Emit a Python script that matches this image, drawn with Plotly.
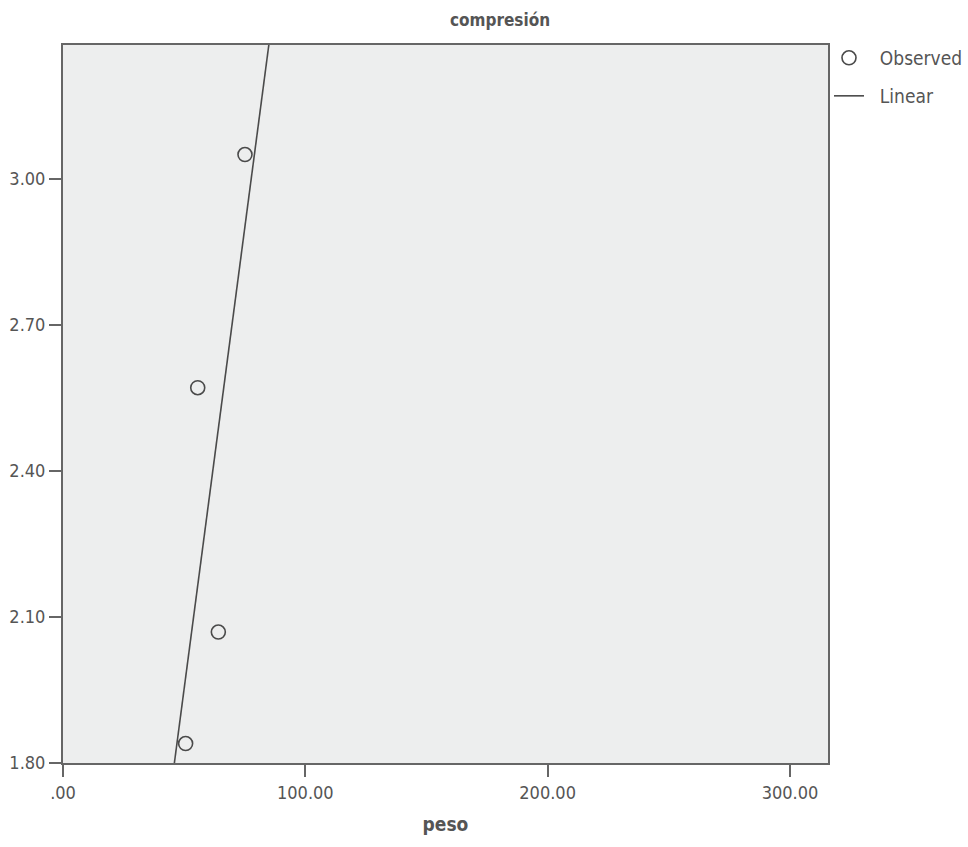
import numpy as np
import plotly.graph_objects as go

# Data
peso = [75.1, 55.6, 64.1, 50.6]
compresion = [3.05, 2.571, 2.069, 1.84]

x_tickvals = [0, 100, 200, 300]
x_ticktext = [".00", "100.00", "200.00", "300.00"]
y_tickvals = [1.8, 2.1, 2.4, 2.7, 3.0]
y_ticktext = ["1.80", "2.10", "2.40", "2.70", "3.00"]

x_range = [0, 315.7]
y_range = [1.8, 3.275]

# Linear fit
slope, intercept = np.polyfit(peso, compresion, 1)
fit_x = [(y_range[0] - intercept) / slope, (y_range[1] - intercept) / slope]
fit_y = [slope * v + intercept for v in fit_x]

FONT = "DejaVu Sans Condensed, Roboto, sans-serif"
GREY = "#555555"
LINE = "#4a4a4a"
NB = "\u00a0"

fig = go.Figure()
fig.add_trace(go.Scatter(
    x=peso, y=compresion, mode="markers", name=NB * 2 + "Observed",
    marker=dict(symbol="circle-open", size=14, color=LINE, line=dict(width=1.6, color=LINE)),
    legend="legend",
))
fig.add_trace(go.Scatter(
    x=fit_x, y=fit_y, mode="lines", name=NB * 2 + "Linear",
    line=dict(color=LINE, width=1.6),
    legend="legend2",
))

axis_common = dict(
    showline=True, linecolor="#666666", linewidth=2, mirror=True,
    ticks="outside", ticklen=12, tickwidth=2, tickcolor="#666666",
    showgrid=False, zeroline=False, automargin=False,
    tickfont=dict(family=FONT, size=18, color=GREY),
)

legend_common = dict(
    xanchor="left", yanchor="middle",
    font=dict(family=FONT, size=19, color=GREY),
    bgcolor="rgba(0,0,0,0)", borderwidth=0,
)

fig.update_layout(
    width=968, height=847,
    margin=dict(l=63, r=140, t=45, b=84, autoexpand=False),
    paper_bgcolor="white", plot_bgcolor="#EDEEEE",
    font=dict(family=FONT, color=GREY),
    title=dict(text="<b>compresión</b>", x=500 / 968, xanchor="center",
               y=1 - 20 / 847, yanchor="middle",
               font=dict(family=FONT, size=17, color=GREY)),
    xaxis=dict(range=x_range, tickvals=x_tickvals, ticktext=x_ticktext,
               title=dict(text="<b>peso</b>", font=dict(family=FONT, size=19, color=GREY), standoff=16),
               **axis_common),
    yaxis=dict(range=y_range, tickvals=y_tickvals, ticktext=y_ticktext,
               **axis_common),
    showlegend=True,
    legend=dict(x=1.0013, y=0.982, **legend_common),
    legend2=dict(x=1.0013, y=0.929, **legend_common),
)

fig.write_html("out.html", config={"displayModeBar": False},
               post_script="document.body.style.margin='0';")
